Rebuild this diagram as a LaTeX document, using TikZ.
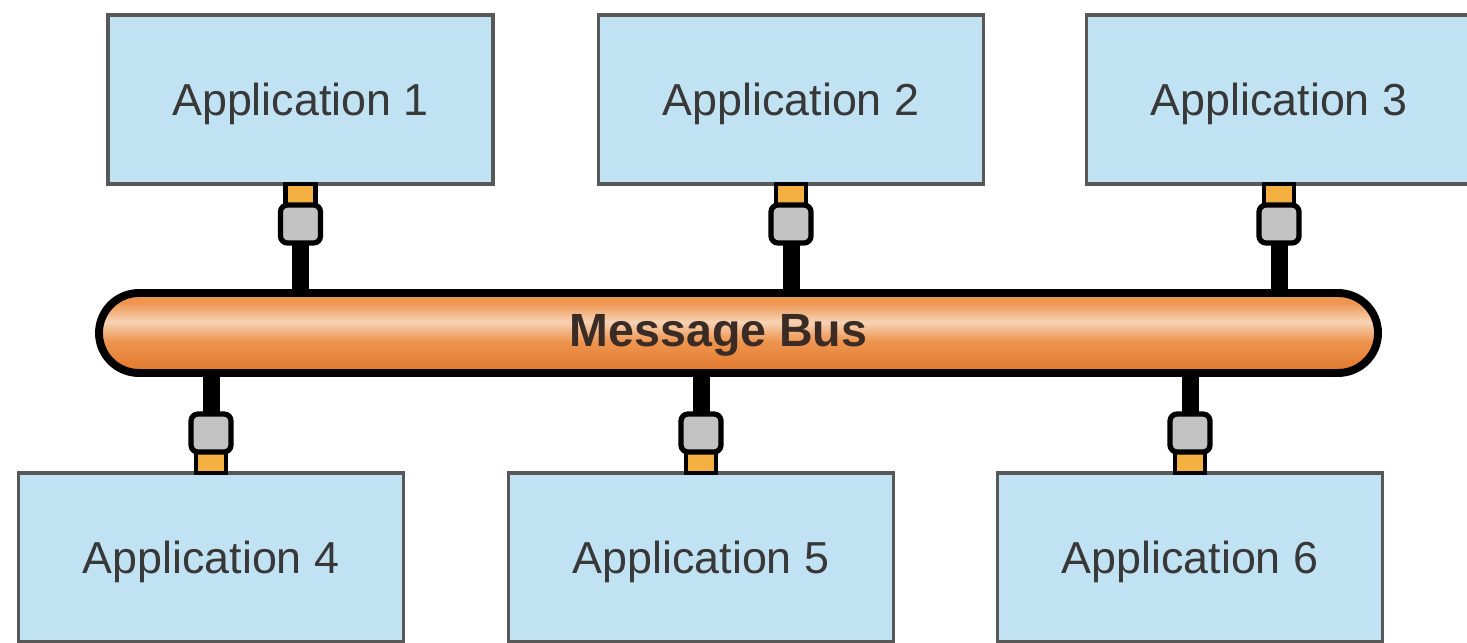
\documentclass[tikz,border=0pt]{standalone}
\usepackage{fontspec}
\setmainfont{Liberation Sans}
\usetikzlibrary{positioning}
\definecolor{appfill}{HTML}{C0E2F2}
\definecolor{appline}{HTML}{585858}
\definecolor{apptext}{HTML}{383838}
\definecolor{busdark}{HTML}{E0772A}
\definecolor{busorange}{HTML}{EE9550}
\definecolor{buslight}{HTML}{F7D3B6}
\definecolor{bustext}{HTML}{3A2C24}
\definecolor{capfill}{HTML}{F4B040}
\definecolor{plugfill}{HTML}{C2C2C2}
\pgfdeclareverticalshading{busshade}{100bp}{color(0bp)=(busdark); color(25bp)=(busdark); color(45bp)=(busorange); color(57bp)=(buslight); color(69bp)=(busorange); color(75bp)=(busorange); color(100bp)=(busorange)}

\begin{document}
\begin{tikzpicture}[font=\fontsize{25.5}{30}\selectfont,
	app/.style={draw=appline, line width=2pt, fill=appfill, text=apptext, minimum width=7.7cm, minimum height=3.38cm, outer sep=0pt, text depth=0pt, yshift=-0.06cm},
	plugcap/.style={draw=black, line width=2.8pt, fill=capfill, minimum width=0.6cm, minimum height=0.42cm, inner sep=0pt, outer sep=0pt},
	plugbody/.style={draw=black, line width=3pt, fill=plugfill, rounded corners=0.14cm, minimum width=0.8cm, minimum height=0.76cm, inner sep=0pt, outer sep=0pt},
	stem/.style={draw=black, line width=0.34cm}]
	\useasboundingbox (0,0) rectangle (29.34,12.84);
	\node[app] (app1) at (6.01,10.91) {Application 1};
	\node[app] (app2) at (15.82,10.91) {Application 2};
	\node[app] (app3) at (25.58,10.91) {Application 3};
	\node[app] (app4) at (4.22,1.75) {Application 4};
	\node[app] (app5) at (14.02,1.75) {Application 5};
	\node[app] (app6) at (23.8,1.75) {Application 6};
	\foreach \i in {1,2,3} {
		\node[plugcap, below=0pt of app\i] (cap\i) {};
		\node[plugbody, below=0pt of cap\i] (plug\i) {};
	}
	\foreach \i in {4,5,6} {
		\node[plugcap, above=0pt of app\i] (cap\i) {};
		\node[plugbody, above=0pt of cap\i] (plug\i) {};
	}
	\node[draw=black, line width=4.5pt, shading=busshade, rounded corners=0.8cm, minimum width=25.58cm, minimum height=1.6cm] (bus) at (14.77,6.18) {};
	\node[text=bustext, font=\fontsize{26.5}{30}\bfseries, xshift=-0.4cm, yshift=-0.05cm] (buslabel) at (bus) {Message Bus};
	\foreach \i in {1,2,3}
		\draw[stem] (plug\i.south) -- (plug\i.south |- bus.north);
	\foreach \i in {4,5,6}
		\draw[stem] (plug\i.north) -- (plug\i.north |- bus.south);
\end{tikzpicture}
\end{document}
